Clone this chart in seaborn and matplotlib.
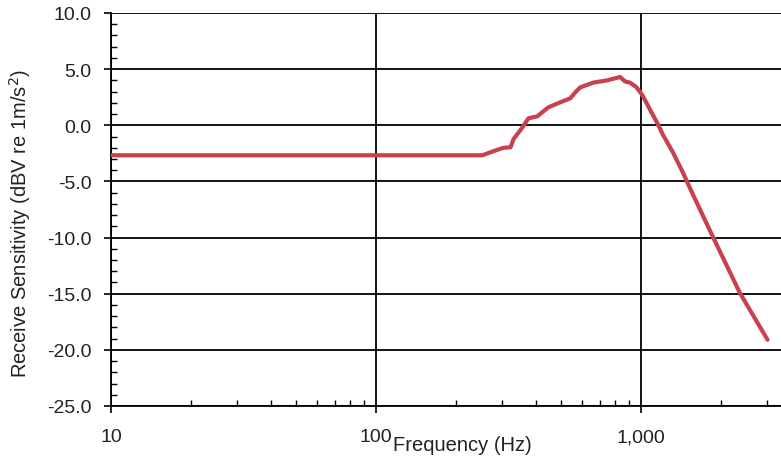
import matplotlib
matplotlib.use("Agg")
import matplotlib.pyplot as plt
import matplotlib.ticker as mticker
import seaborn as sns
import pandas as pd

freq_hz = [10, 20, 50, 100, 150, 200, 252, 278, 303, 322, 330, 357, 376, 406, 424,
           447, 496, 541, 565, 590, 660, 745, 834, 871, 909, 960, 1011, 1081, 1158,
           1207, 1319, 1439, 1558, 1865, 2357, 3002]
sens_db = [-2.67, -2.67, -2.67, -2.67, -2.67, -2.67, -2.67, -2.3, -2.0, -1.96, -1.25,
           -0.18, 0.62, 0.8, 1.16, 1.6, 2.05, 2.4, 2.94, 3.38, 3.8, 4.0, 4.3, 3.9,
           3.8, 3.4, 2.7, 1.4, 0.1, -0.8, -2.4, -4.2, -6.0, -9.9, -14.9, -19.1]

y_ticks = [-25, -20, -15, -10, -5, 0, 5, 10]
x_ticks = [10, 100, 1000]
x_tick_labels = ["10", "100", "1,000"]

sns.set_style("white")
plt.rcParams["font.family"] = ["Liberation Sans", "DejaVu Sans"]

df = pd.DataFrame({"Frequency": freq_hz, "Sensitivity": sens_db})

fig = plt.figure(figsize=(7.81, 4.60), dpi=100)
ax = fig.add_axes([111 / 781, 1 - 407 / 460, 670 / 781, 393 / 460])

sns.lineplot(data=df, x="Frequency", y="Sensitivity", ax=ax, color="#C9404F",
             linewidth=3.0, zorder=3)
ax.lines[0].set_solid_joinstyle("round")

ax.set_xscale("log")
ax.set_xlim(10, 3375)
ax.set_ylim(-25, 10)

ax.set_xticks(x_ticks)
ax.set_xticklabels(x_tick_labels)
ax.xaxis.set_minor_locator(mticker.LogLocator(base=10, subs=range(2, 10)))
ax.xaxis.set_minor_formatter(mticker.NullFormatter())
ax.set_yticks(y_ticks)
ax.yaxis.set_major_formatter(mticker.FuncFormatter(lambda v, p: f"{v:.1f}".replace("\u2212", "-")))
ax.yaxis.set_minor_locator(mticker.MultipleLocator(1))

ax.grid(True, which="major", color="black", linewidth=1.3)
for s in ["top", "right"]:
    ax.spines[s].set_visible(False)
for s in ["left", "bottom"]:
    ax.spines[s].set_color("black")
    ax.spines[s].set_linewidth(1.3)

ax.tick_params(axis="both", which="major", labelsize=14, colors="black",
               labelcolor="#222222", length=5, width=1.2, direction="out")
ax.tick_params(axis="x", which="major", pad=11)
ax.tick_params(axis="y", which="major", pad=9)
ax.tick_params(axis="both", which="minor", length=4, width=1.0, direction="in",
               colors="black")
ax.yaxis.set_ticks_position("left")
ax.xaxis.set_ticks_position("bottom")

ax.set_xlabel("Frequency (Hz)", fontsize=14.5, color="#222222")
ax.set_ylabel("Receive Sensitivity (dBV re 1m/s$^2$)", fontsize=14.5, color="#222222")
ax.xaxis.set_label_coords(0.525, -0.099)
ax.yaxis.set_label_coords(-0.136, 0.468)
ax.xaxis.label.set_va("center")
ax.yaxis.label.set_va("center")

fig.savefig("out.png", dpi=100)
